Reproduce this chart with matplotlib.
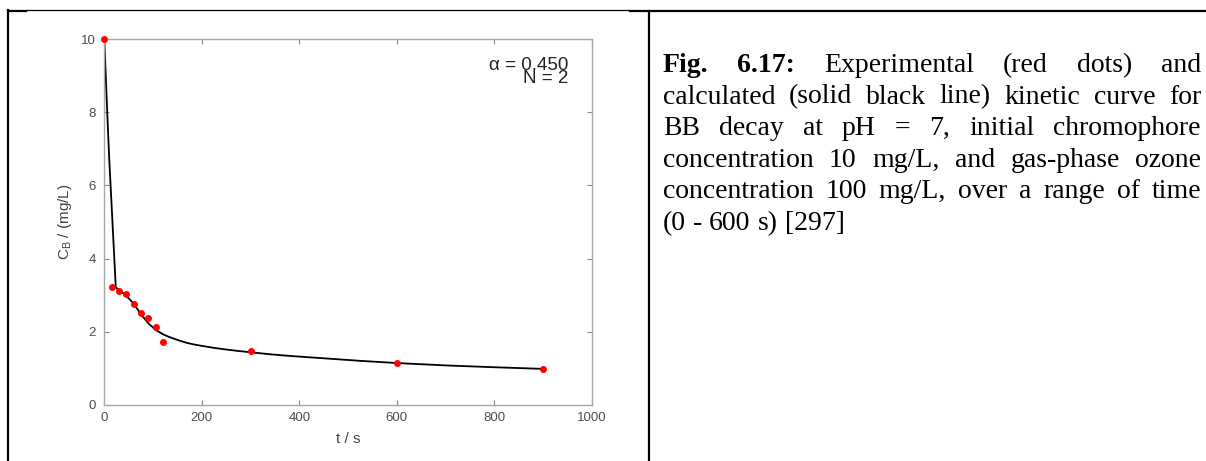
import numpy as np
import matplotlib
matplotlib.use("Agg")
import matplotlib.pyplot as plt
from matplotlib.lines import Line2D

plt.rcParams['font.family'] = ['Liberation Sans', 'DejaVu Sans']
plt.rcParams['mathtext.fontset'] = 'custom'
plt.rcParams['mathtext.rm'] = 'Liberation Sans'

# experimental points (red dots)
t_exp = [0, 15, 30, 45, 60, 75, 90, 105, 120, 300, 600, 900]
c_exp = [10.0, 3.21, 3.12, 3.04, 2.76, 2.52, 2.37, 2.13, 1.72, 1.46, 1.14, 0.98]

# calculated curve (solid black line)
t_calc = [0, 6, 10, 15, 23.5, 30, 40, 50, 60, 75, 90, 105, 120, 130, 140, 155, 170, 185,
          200, 225, 250, 275, 300, 340, 380, 450, 525, 600, 700, 800, 900]
c_calc = [10.0, 8.0, 6.75, 5.45, 3.22, 3.13, 3.04, 2.91, 2.77, 2.48, 2.23, 2.05, 1.93,
          1.87, 1.82, 1.75, 1.69, 1.645, 1.61, 1.555, 1.51, 1.47, 1.435, 1.38, 1.335,
          1.27, 1.2, 1.14, 1.075, 1.025, 0.98]

x_ticks = [0, 200, 400, 600, 800, 1000]
y_ticks = [0, 2, 4, 6, 8, 10]

caption = [
    [("Fig.", "bold"), ("6.17:", "bold"), ("Experimental", "normal"), ("(red", "normal"),
     ("dots)", "normal"), ("and", "normal")],
    "calculated (solid black line) kinetic curve for",
    "BB decay at pH = 7, initial chromophore",
    "concentration 10 mg/L, and gas-phase ozone",
    "concentration 100 mg/L, over a range of time",
    "(0 - 600 s) [297]",
]

W, H = 1206, 461
fig = plt.figure(figsize=(W / 100, H / 100), dpi=100)

def fx(px):
    return px / W

def fy(py):
    return 1 - py / H

# table borders
fig.add_artist(Line2D([fx(8), fx(26)], [fy(11), fy(11)], color='black', lw=1.6))
fig.add_artist(Line2D([fx(26), fx(630)], [fy(10.5), fy(10.5)], color='black', lw=0.9))
fig.add_artist(Line2D([fx(630), fx(1206)], [fy(11), fy(11)], color='black', lw=1.6))
fig.add_artist(Line2D([fx(8), fx(8)], [fy(10), fy(461)], color='black', lw=1.6))
fig.add_artist(Line2D([fx(649), fx(649)], [fy(11), fy(461)], color='black', lw=1.6))

# chart
ax = fig.add_axes([fx(104.3), fy(404.7), (592 - 104.3) / W, (404.7 - 39.3) / H])
ax.plot(t_calc, c_calc, color='black', lw=1.3, zorder=2)
ax.plot(t_exp, c_exp, 'o', color='#ff0000', ms=5, mec='none', zorder=3, clip_on=False)
ax.set_xlim(0, 1000)
ax.set_ylim(0, 10)
ax.set_xticks(x_ticks)
ax.set_yticks(y_ticks)
for s in ax.spines.values():
    s.set_color('#a8a8a8')
    s.set_linewidth(1.0)
ax.tick_params(direction='in', length=3.6, width=0.8, color='#888888', top=True, right=True,
               labelsize=9.5, labelcolor='#4d4d4d')
ax.tick_params(axis='x', pad=5)
ax.tick_params(axis='y', pad=6)
ax.text(-0.08, 0.5, r'C$_\mathrm{B}$ / (mg/L)', transform=ax.transAxes, rotation=90,
        ha='center', va='center', fontsize=11, color='#444444')
ax.text(0.5, -0.095, 't / s', transform=ax.transAxes, ha='center', va='center',
        fontsize=11, color='#444444')
ax.text(0.9514, 0.916, 'α = 0.450', transform=ax.transAxes, ha='right', va='baseline',
        fontsize=13.5, color='#222222')
ax.text(0.9514, 0.880, 'N = 2', transform=ax.transAxes, ha='right', va='baseline',
        fontsize=13.5, color='#222222')

# caption, justified
renderer = fig.canvas.get_renderer()
FS = 20
x_left, x_right = 663, 1201
base0, step = 72, 31.6

def word_width(s, wt):
    t = fig.text(0, 0, s, fontsize=FS, family='Liberation Serif', weight=wt)
    w = t.get_window_extent(renderer).width
    t.remove()
    return w

space_w = word_width("x x", "normal") - word_width("xx", "normal")

for i, line in enumerate(caption):
    if isinstance(line, str):
        words = [(w, "normal") for w in line.split()]
    else:
        words = line
    widths = [word_width(w, wt) for w, wt in words]
    last = i == len(caption) - 1
    if last:
        gap = space_w
    else:
        gap = (x_right - x_left - sum(widths)) / (len(words) - 1)
    x = x_left
    y = base0 + i * step
    for (w, wt), ww in zip(words, widths):
        fig.text(fx(x), fy(y), w, fontsize=FS, family='Liberation Serif', weight=wt,
                 va='baseline', ha='left', color='black')
        x += ww + gap

fig.savefig('out.png', dpi=100)
